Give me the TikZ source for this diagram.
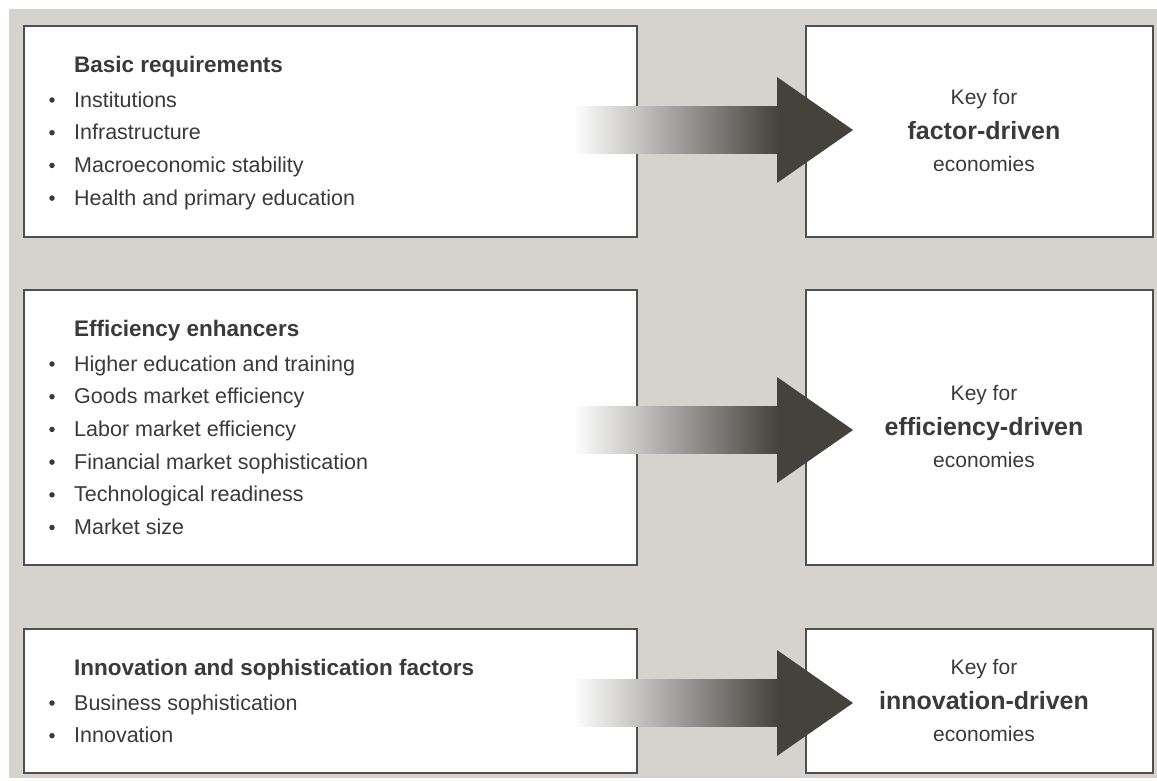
\documentclass[tikz,border=0pt]{standalone}
\usepackage{fontspec}
\setmainfont{Liberation Sans}
\definecolor{bg}{HTML}{D6D3CF}
\definecolor{boxline}{HTML}{4F4F4F}
\definecolor{txt}{HTML}{3A3A3A}
\definecolor{arrowdark}{HTML}{45413D}
\definecolor{arrowmid}{HTML}{8A8580}
\begin{document}
\begin{tikzpicture}[x=1pt,y=-1pt,
  box/.style={draw=boxline, line width=1.2pt, fill=white, rectangle, inner sep=0pt},
  item/.style={anchor=base west, inner sep=0pt, text=txt, font=\fontsize{21.5}{26}\selectfont},
  ttl/.style={anchor=base west, inner sep=0pt, text=txt, font=\fontsize{22.5}{28}\selectfont\bfseries},
  dot/.style={circle, fill=txt, inner sep=0pt, minimum size=5.5pt},
  keytxt/.style={anchor=base, inner sep=0pt, text=txt, font=\fontsize{21}{26}\selectfont},
  keybold/.style={anchor=base, inner sep=0pt, text=txt, font=\fontsize{25}{30}\selectfont\bfseries},
  shaft/.style={left color=white, middle color=arrowmid, right color=arrowdark},
  head/.style={fill=arrowdark}]
\useasboundingbox (0,0) rectangle (1157,780);
\fill[white] (0,0) rectangle (1157,780);
\fill[bg] (9,9) rectangle (1157,778);

% left boxes
\node[box, minimum width=613pt, minimum height=211pt] (L1) at (330.5,131.5) {};
\node[box, minimum width=613pt, minimum height=275pt] (L2) at (330.5,427.5) {};
\node[box, minimum width=613pt, minimum height=144pt] (L3) at (330.5,701) {};
% right boxes
\node[box, minimum width=347pt, minimum height=211pt] (R1) at (979.5,131.5) {};
\node[box, minimum width=347pt, minimum height=275pt] (R2) at (979.5,427.5) {};
\node[box, minimum width=347pt, minimum height=144pt] (R3) at (979.5,701) {};

% box 1 text
\node[ttl] (t1) at (74,72) {Basic requirements};
\foreach \n/\txt [count=\k] in {107/Institutions,139.7/Infrastructure,172.4/Macroeconomic stability,205.1/Health and primary education}{
  \node[item] (i1\k) at (74,\n) {\txt};
  \node[dot] (d1\k) at (52,\n-7) {};
}
% box 2 text
\node[ttl] (t2) at (74,336) {Efficiency enhancers};
\foreach \n/\txt [count=\k] in {371/Higher education and training,403.7/Goods market efficiency,436.4/Labor market efficiency,469.1/Financial market sophistication,501.8/Technological readiness,534.5/Market size}{
  \node[item] (i2\k) at (74,\n) {\txt};
  \node[dot] (d2\k) at (52,\n-7) {};
}
% box 3 text
\node[ttl] (t3) at (74,675) {Innovation and sophistication factors};
\foreach \n/\txt [count=\k] in {710/Business sophistication,742.7/Innovation}{
  \node[item] (i3\k) at (74,\n) {\txt};
  \node[dot] (d3\k) at (52,\n-7) {};
}

% right texts
\node[keytxt] (k1a) at (984,104) {Key for};
\node[keybold] (k1b) at (984,139) {factor-driven};
\node[keytxt] (k1c) at (984,171) {economies};
\node[keytxt] (k2a) at (984,400) {Key for};
\node[keybold] (k2b) at (984,435) {efficiency-driven};
\node[keytxt] (k2c) at (984,467) {economies};
\node[keytxt] (k3a) at (984,674) {Key for};
\node[keybold] (k3b) at (984,709) {innovation-driven};
\node[keytxt] (k3c) at (984,741) {economies};

% arrows
\foreach \c [count=\k] in {130,430,703}{
  \coordinate (s\k) at (573,\c);
  \coordinate (h\k) at (777,\c);
  \coordinate (e\k) at (853,\c);
  \shade[shaft] ([yshift=23.5pt]s\k) rectangle ([xshift=1pt,yshift=-23.5pt]h\k);
  \fill[head] ([yshift=53pt]h\k) -- (e\k) -- ([yshift=-53pt]h\k) -- cycle;
}
\end{tikzpicture}
\end{document}
